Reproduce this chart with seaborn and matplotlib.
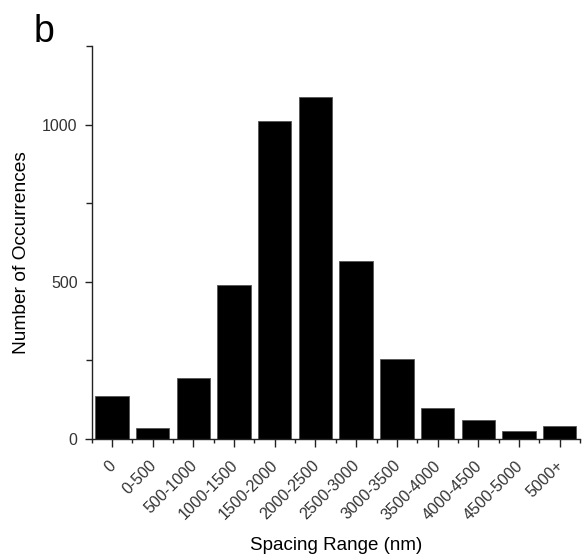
import matplotlib
matplotlib.use("Agg")
import matplotlib.pyplot as plt
import matplotlib.transforms as mtransforms
from matplotlib.ticker import MultipleLocator, FixedLocator
import seaborn as sns
import pandas as pd

categories = ["0", "0-500", "500-1000", "1000-1500", "1500-2000", "2000-2500",
              "2500-3000", "3000-3500", "3500-4000", "4000-4500", "4500-5000", "5000+"]
counts = [134, 34, 192, 489, 1013, 1087, 566, 254, 97, 60, 25, 39]
y_ticks = [0, 500, 1000]

sns.set_style("ticks")
plt.rcParams['font.family'] = ['Liberation Sans', 'DejaVu Sans']

df = pd.DataFrame({"range": categories, "count": counts})

fig = plt.figure(figsize=(5.83, 5.57), dpi=100)
ax = fig.add_axes([0.157, 0.2127, 0.838, 0.7043])
sns.barplot(data=df, x="range", y="count", color="black", saturation=1,
            width=0.82, edgecolor="#555555", linewidth=0.6, ax=ax)

ax.set_xlim(-0.5, len(categories) - 0.5)
ax.set_ylim(0, 1250)
ax.yaxis.set_major_locator(FixedLocator(y_ticks))
ax.yaxis.set_minor_locator(MultipleLocator(250))
ax.xaxis.set_minor_locator(MultipleLocator(1, offset=0.5))

for s in ["top", "right"]:
    ax.spines[s].set_visible(False)
for s in ["left", "bottom"]:
    ax.spines[s].set_color("#222222")
    ax.spines[s].set_linewidth(1.0)

ax.tick_params(axis="y", which="major", length=5, width=1, color="#222222",
               labelsize=11.5, labelcolor="#333333", pad=5)
ax.tick_params(axis="y", which="minor", length=4, width=1, color="#222222")
ax.tick_params(axis="x", which="major", length=6, width=1, color="#222222",
               labelsize=11.5, labelcolor="#333333", pad=8)
ax.tick_params(axis="x", which="minor", length=3, width=1, color="#222222")

ax.set_xticks(range(len(categories)))
ax.set_xticklabels(categories, rotation=45, ha="right", va="top",
                   rotation_mode="anchor")
offset = mtransforms.ScaledTranslation(-3 / 72, 0, fig.dpi_scale_trans)
for lab in ax.get_xticklabels():
    lab.set_transform(lab.get_transform() + offset)

ax.set_xlabel("Spacing Range (nm)", fontsize=13.5, color="black", labelpad=10)
ax.set_ylabel("Number of Occurrences", fontsize=13.8, color="black")
ax.yaxis.set_label_coords(-0.126, 0.475)

fig.text(0.058, 0.925, "b", fontsize=27, color="black", ha="left", va="baseline")

fig.savefig("out.png", dpi=100)
